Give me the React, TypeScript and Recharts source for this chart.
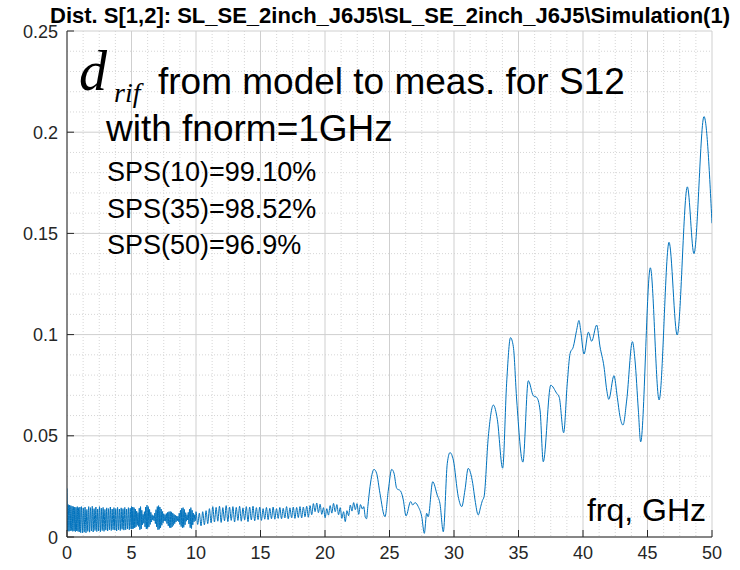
import React from 'react';
import { LineChart, Line, XAxis, YAxis, CartesianGrid } from 'recharts';

// ---------- data ----------
const xTicks = [0, 5, 10, 15, 20, 25, 30, 35, 40, 45, 50];
const yTicks = [0, 0.05, 0.1, 0.15, 0.2, 0.25];
const yTickLabels = ['0', '0.05', '0.1', '0.15', '0.2', '0.25'];
const xMinor = [1.25, 2.5, 3.75, 6.25, 7.5, 8.75, 11.25, 12.5, 13.75, 16.25, 17.5, 18.75, 21.25, 22.5, 23.75, 26.25, 27.5, 28.75, 31.25, 32.5, 33.75, 36.25, 37.5, 38.75, 41.25, 42.5, 43.75, 46.25, 47.5, 48.75];
const yMinor = [0.01, 0.02, 0.03, 0.04, 0.06, 0.07, 0.08, 0.09, 0.11, 0.12, 0.13, 0.14, 0.16, 0.17, 0.18, 0.19, 0.21, 0.22, 0.23, 0.24];

// 0 .. 1.0 GHz, 0.05 GHz grid
const seg0Start = 0;
const seg0Step = 0.05;
const seg0Vals = [0.024, 0.003, 0.016, 0.0028, 0.0158, 0.003, 0.0155, 0.0032, 0.0152, 0.0028, 0.015, 0.003, 0.0148, 0.0026, 0.0146, 0.003, 0.015, 0.0028, 0.0145, 0.0025, 0.0148];

// 1.05 .. 4.97 GHz, 0.07 GHz grid
const seg1Start = 1.05;
const seg1Step = 0.07;
const seg1Vals = [
  0.0022, 0.015, 0.002, 0.0144, 0.0024, 0.0148, 0.0021, 0.0136, 0.0028, 0.015,
  0.0024, 0.0145, 0.003, 0.0152, 0.0025, 0.014, 0.0032, 0.0148, 0.0027, 0.0138,
  0.003, 0.015, 0.0026, 0.0142, 0.0032, 0.0146, 0.0028, 0.0136, 0.0034, 0.0144,
  0.003, 0.014, 0.0036, 0.0148, 0.0032, 0.0138, 0.0036, 0.0145, 0.0034, 0.014,
  0.003, 0.0146, 0.0036, 0.0138, 0.0032, 0.0144, 0.0038, 0.014, 0.0034, 0.0146,
  0.0036, 0.0138, 0.004, 0.0145, 0.0036, 0.0142, 0.004,
];

// 5.0 .. 10.0 GHz, 0.05 GHz grid
const seg2Start = 5.0;
const seg2Step = 0.05;
const seg2Vals = [
  0.015, 0.004, 0.0148, 0.0042, 0.0145, 0.0045, 0.0138, 0.005, 0.0128, 0.0058,
  0.012, 0.0052, 0.0142, 0.0036, 0.015, 0.004, 0.0132, 0.006, 0.0112, 0.0068,
  0.0125, 0.005, 0.0148, 0.004, 0.0157, 0.0042, 0.015, 0.005, 0.0136, 0.0062,
  0.0122, 0.0074, 0.011, 0.0084, 0.0105, 0.008, 0.0118, 0.0066, 0.0135, 0.005,
  0.015, 0.0036, 0.0155, 0.0038, 0.0148, 0.0046, 0.0138, 0.0058, 0.0126, 0.007,
  0.0115, 0.008, 0.011, 0.0078, 0.0116, 0.0066, 0.0122, 0.0055, 0.0125, 0.0047,
  0.0126, 0.0045, 0.0124, 0.005, 0.0118, 0.0058, 0.0112, 0.0066, 0.0108, 0.0074,
  0.0104, 0.008, 0.0102, 0.0076, 0.0118, 0.0062, 0.0132, 0.0052, 0.0142, 0.0046,
  0.0145, 0.0048, 0.0136, 0.006, 0.012, 0.0078, 0.011, 0.0084, 0.0122, 0.0064,
  0.0138, 0.0046, 0.0145, 0.0042, 0.0132, 0.006, 0.0118, 0.0075, 0.011, 0.008,
  0.0125,
];

// 10.13 .. 22.61 GHz, 0.13 GHz grid
const seg3Start = 10.13;
const seg3Step = 0.13;
const seg3Vals = [
  0.0062, 0.0118, 0.0055, 0.0125, 0.006, 0.013, 0.0066, 0.014, 0.007, 0.015,
  0.0074, 0.0146, 0.0078, 0.0152, 0.0072, 0.0145, 0.008, 0.0155, 0.0076, 0.0148,
  0.0082, 0.015, 0.0074, 0.0146, 0.0082, 0.0152, 0.0078, 0.0144, 0.0084, 0.015,
  0.0076, 0.0148, 0.0084, 0.0152, 0.008, 0.0145, 0.0086, 0.0148, 0.0082, 0.014,
  0.0088, 0.0146, 0.0086, 0.0142, 0.009, 0.0148, 0.0088, 0.014, 0.0092, 0.0146,
  0.009, 0.0142, 0.0094, 0.015, 0.009, 0.0144, 0.0095, 0.0148, 0.0092, 0.0146,
  0.0096, 0.015, 0.0094, 0.0148, 0.01, 0.0152, 0.0098, 0.0155, 0.011, 0.0165,
  0.0125, 0.0168, 0.012, 0.0162, 0.0112, 0.0145, 0.0095, 0.014, 0.0108, 0.0155,
  0.0118, 0.0166, 0.0125, 0.016, 0.011, 0.0145, 0.0092, 0.0125, 0.0076, 0.013,
  0.0105, 0.0158, 0.0128, 0.017, 0.0135, 0.0165, 0.0112,
];

// 22.75 .. 50 GHz, individual points
const tailFreq = [22.75, 22.9, 23.0, 23.12, 23.22, 23.32, 23.49, 23.8, 24.0, 24.26, 24.65, 24.91, 25.17, 25.35, 25.56, 25.86, 26.07, 26.28, 26.64, 26.8, 26.98, 27.23, 27.5, 27.7, 27.88, 28.0, 28.35, 28.7, 28.91, 29.17, 29.48, 29.69, 29.95, 30.33, 30.6, 30.85, 31.1, 31.45, 31.63, 31.88, 32.07, 32.2, 32.33, 32.66, 33.05, 33.36, 33.77, 34.08, 34.38, 34.6, 34.86, 35.34, 35.76, 36.15, 36.41, 36.67, 36.92, 37.5, 37.96, 38.16, 38.5, 38.78, 39.0, 39.25, 39.5, 39.69, 39.82, 40.08, 40.42, 40.67, 41.06, 41.32, 41.63, 41.84, 42.0, 42.4, 42.66, 42.87, 43.1, 43.39, 43.83, 44.03, 44.29, 44.47, 45.22, 45.9, 46.67, 47.3, 48.09, 48.6, 49.38, 50.0];
const tailDist = [0.016, 0.0138, 0.015, 0.01, 0.009, 0.015, 0.0249, 0.0334, 0.0315, 0.0216, 0.01, 0.0232, 0.0334, 0.0315, 0.024, 0.0227, 0.0183, 0.0104, 0.0175, 0.0158, 0.017, 0.015, 0.01, 0.0018, 0.0117, 0.01, 0.0273, 0.0207, 0.0166, 0.0026, 0.0364, 0.0417, 0.038, 0.0199, 0.015, 0.0232, 0.0339, 0.0265, 0.0183, 0.0109, 0.015, 0.018, 0.0199, 0.0496, 0.0652, 0.058, 0.034, 0.076, 0.0985, 0.094, 0.0677, 0.037, 0.0772, 0.0698, 0.069, 0.0627, 0.0372, 0.075, 0.071, 0.069, 0.0515, 0.076, 0.0907, 0.094, 0.102, 0.107, 0.102, 0.0904, 0.1012, 0.0967, 0.1047, 0.094, 0.084, 0.0726, 0.068, 0.0797, 0.069, 0.0594, 0.0553, 0.0677, 0.0965, 0.0874, 0.0627, 0.047, 0.133, 0.0677, 0.1456, 0.0998, 0.173, 0.14, 0.2077, 0.155];

const gridSeg = (start: number, step: number, vals: number[]) =>
  vals.map((v, i) => ({ f: Math.round((start + i * step) * 1000) / 1000, v }));

const data = [
  ...gridSeg(seg0Start, seg0Step, seg0Vals),
  ...gridSeg(seg1Start, seg1Step, seg1Vals),
  ...gridSeg(seg2Start, seg2Step, seg2Vals),
  ...gridSeg(seg3Start, seg3Step, seg3Vals),
  ...tailFreq.map((f, i) => ({ f, v: tailDist[i] })),
];

// ---------- styling ----------
const W = 740;
const H = 570;
const AX = '#262626';
const FONT = '"Liberation Sans", Arial, Helvetica, sans-serif';
const SERIF = '"Liberation Serif", "Times New Roman", serif';
const TICK_LEN = 7;

const BottomTick = (props: any) => {
  const { x, y, payload } = props;
  return (
    <g>
      <line x1={x} x2={x} y1={y} y2={y - TICK_LEN} stroke={AX} strokeWidth={1} />
      <text x={x} y={y + 22} textAnchor="middle" fontFamily={FONT} fontSize={18} fill={AX}>
        {String(payload.value)}
      </text>
    </g>
  );
};

const TopTick = (props: any) => {
  const { x, y } = props;
  return <line x1={x} x2={x} y1={y} y2={y + TICK_LEN} stroke={AX} strokeWidth={1} />;
};

const LeftTick = (props: any) => {
  const { x, y, payload } = props;
  const idx = yTicks.indexOf(payload.value);
  const label = idx >= 0 ? yTickLabels[idx] : String(payload.value);
  return (
    <g>
      <line x1={x} x2={x + TICK_LEN} y1={y} y2={y} stroke={AX} strokeWidth={1} />
      <text x={x - 9} y={y + 6.5} textAnchor="end" fontFamily={FONT} fontSize={18} fill={AX}>
        {label}
      </text>
    </g>
  );
};

const RightTick = (props: any) => {
  const { x, y } = props;
  return <line x1={x} x2={x - TICK_LEN} y1={y} y2={y} stroke={AX} strokeWidth={1} />;
};

export default function App() {
  return (
    <div style={{ position: 'absolute', left: 0, top: 0, width: W, height: H, background: '#fff' }}>
      <LineChart
        width={W}
        height={H}
        data={data}
        margin={{ top: 31, right: 28, bottom: 0, left: 7 }}
      >
        <CartesianGrid
          xAxisId="b"
          yAxisId="l"
          verticalValues={xMinor}
          horizontalValues={yMinor}
          stroke="#d6d6d6"
          strokeDasharray="1 2"
          strokeWidth={1}
        />
        <CartesianGrid
          xAxisId="b"
          yAxisId="l"
          verticalValues={xTicks}
          horizontalValues={yTicks}
          stroke="#cfcfcf"
          strokeWidth={1}
        />
        <XAxis
          xAxisId="b"
          dataKey="f"
          type="number"
          domain={[0, 50]}
          ticks={xTicks}
          interval={0}
          allowDataOverflow
          height={33}
          tickSize={0}
          tickMargin={0}
          tickLine={false}
          axisLine={{ stroke: AX, strokeWidth: 1 }}
          tick={<BottomTick />}
        />
        <XAxis
          xAxisId="t"
          orientation="top"
          dataKey="f"
          type="number"
          domain={[0, 50]}
          ticks={xTicks}
          interval={0}
          allowDataOverflow
          height={0}
          tickSize={0}
          tickMargin={0}
          tickLine={false}
          axisLine={{ stroke: AX, strokeWidth: 1 }}
          tick={<TopTick />}
        />
        <YAxis
          yAxisId="l"
          type="number"
          domain={[0, 0.25]}
          ticks={yTicks}
          interval={0}
          allowDataOverflow
          width={60}
          tickSize={0}
          tickMargin={0}
          tickLine={false}
          axisLine={{ stroke: AX, strokeWidth: 1 }}
          tick={<LeftTick />}
        />
        <YAxis
          yAxisId="r"
          orientation="right"
          type="number"
          domain={[0, 0.25]}
          ticks={yTicks}
          interval={0}
          allowDataOverflow
          width={0}
          tickSize={0}
          tickMargin={0}
          tickLine={false}
          axisLine={{ stroke: AX, strokeWidth: 1 }}
          tick={<RightTick />}
        />
        <Line
          xAxisId="b"
          yAxisId="l"
          type="monotone"
          dataKey="v"
          stroke="#0072BD"
          strokeWidth={1}
          dot={false}
          activeDot={false}
          isAnimationActive={false}
        />
      </LineChart>
      <svg
        width={W}
        height={H}
        style={{ position: 'absolute', left: 0, top: 0, pointerEvents: 'none' }}
      >
        <text
          x={390}
          y={23}
          textAnchor="middle"
          fontFamily={FONT}
          fontWeight="bold"
          fontSize={22}
          textLength={680}
          lengthAdjust="spacingAndGlyphs"
          fill="#000"
        >
          {'Dist. S[1,2]: SL_SE_2inch_J6J5\\SL_SE_2inch_J6J5\\Simulation(1)'}
        </text>
        <text x={79} y={90} fontFamily={SERIF} fontStyle="italic" fontSize={56} fill="#000">d</text>
        <text x={114} y={102} fontFamily={SERIF} fontStyle="italic" fontSize={28} fill="#000">rif</text>
        <text x={158} y={94} fontFamily={FONT} fontSize={37} fill="#000">from model to meas. for S12</text>
        <text x={106} y={141} fontFamily={FONT} fontSize={37} fill="#000">with fnorm=1GHz</text>
        <text x={107} y={181} fontFamily={FONT} fontSize={27} fill="#000">SPS(10)=99.10%</text>
        <text x={107} y={218} fontFamily={FONT} fontSize={27} fill="#000">SPS(35)=98.52%</text>
        <text x={107} y={254} fontFamily={FONT} fontSize={27} fill="#000">SPS(50)=96.9%</text>
        <text x={706} y={521} textAnchor="end" fontFamily={FONT} fontSize={32} fill="#000">frq, GHz</text>
      </svg>
    </div>
  );
}
